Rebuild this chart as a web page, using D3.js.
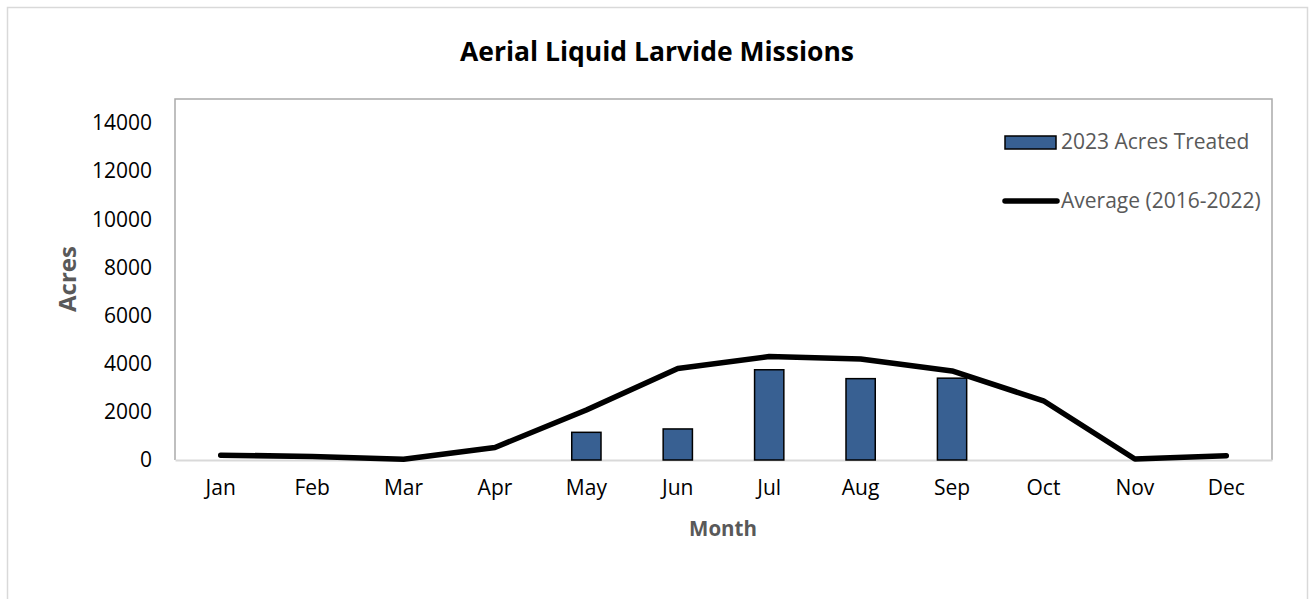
<!DOCTYPE html>
<html>
<head>
<meta charset="utf-8">
<script src="https://cdn.jsdelivr.net/npm/d3@7"></script>
<style>
  html, body { margin: 0; padding: 0; background: #fff; }
  svg { display: block; font-family: "Open Sans", sans-serif; }
</style>
</head>
<body>
<svg id="chart" width="1312" height="599"></svg>
<script>
// chart data
const months = ['Jan', 'Feb', 'Mar', 'Apr', 'May', 'Jun', 'Jul', 'Aug', 'Sep', 'Oct', 'Nov', 'Dec'];
const acres2023 = [0, 0, 0, 0, 1150, 1290, 3750, 3380, 3400, 0, 0, 0];
const average = [200, 150, 30, 520, 2080, 3800, 4300, 4200, 3700, 2460, 40, 180];
const yTicks = [0, 2000, 4000, 6000, 8000, 10000, 12000, 14000];
const seriesNames = ['2023 Acres Treated', 'Average (2016-2022)'];

const barColor = '#386092';
const margin = { top: 99, right: 40, bottom: 139, left: 175 };
const width = 1312 - margin.left - margin.right;
const height = 599 - margin.top - margin.bottom;

const svg = d3.select('#chart');

// outer chart frame
svg.append('rect')
  .attr('x', 7.5).attr('y', 7.5)
  .attr('width', 1300).attr('height', 620)
  .attr('fill', 'none')
  .attr('stroke', '#d9d9d9')
  .attr('stroke-width', 1.5);

svg.append('text')
  .attr('x', 657).attr('y', 61)
  .attr('text-anchor', 'middle')
  .attr('font-size', 26.5)
  .attr('font-weight', 'bold')
  .attr('fill', '#000')
  .text('Aerial Liquid Larvide Missions');

const chart = svg.append('g')
  .attr('transform', `translate(${margin.left},${margin.top})`);

const x = d3.scaleBand().domain(months).range([0, width]);
const y = d3.scaleLinear().domain([0, 15000]).range([height, 0]);

// plot area border (left, top, right)
chart.append('path')
  .attr('d', `M0,${height}V0H${width}V${height}`)
  .attr('fill', 'none')
  .attr('stroke', '#ababab')
  .attr('stroke-width', 1.5);

// y axis labels
const yAxis = chart.append('g')
  .call(d3.axisLeft(y).tickValues(yTicks).tickSize(0).tickPadding(23).tickFormat(d3.format('d')));
yAxis.select('.domain').remove();
yAxis.selectAll('text')
  .attr('font-family', '"Open Sans", sans-serif')
  .attr('font-size', 21)
  .attr('fill', '#000');

// x axis
const xAxis = chart.append('g')
  .attr('transform', `translate(0,${height})`)
  .call(d3.axisBottom(x).tickSize(0).tickPadding(20));
xAxis.select('.domain')
  .attr('stroke', '#d9d9d9')
  .attr('stroke-width', 2);
xAxis.selectAll('text')
  .attr('font-family', '"Open Sans", sans-serif')
  .attr('font-size', 21)
  .attr('fill', '#000');

// axis titles
svg.append('text')
  .attr('transform', 'translate(76,279) rotate(-90)')
  .attr('text-anchor', 'middle')
  .attr('font-size', 24)
  .attr('font-weight', 'bold')
  .attr('fill', '#595959')
  .text('Acres');

svg.append('text')
  .attr('x', 723).attr('y', 536)
  .attr('text-anchor', 'middle')
  .attr('font-size', 20.5)
  .attr('font-weight', 'bold')
  .attr('fill', '#595959')
  .text('Month');

// bars
const barW = x.bandwidth() * 0.32;
chart.append('g')
  .selectAll('rect')
  .data(months.map((m, i) => ({ m, v: acres2023[i] })).filter(d => d.v > 0))
  .join('rect')
  .attr('x', d => x(d.m) + (x.bandwidth() - barW) / 2)
  .attr('y', d => y(d.v))
  .attr('width', barW)
  .attr('height', d => height - y(d.v))
  .attr('fill', barColor)
  .attr('stroke', '#000')
  .attr('stroke-width', 1.5);

// average line
const line = d3.line()
  .x((d, i) => x(months[i]) + x.bandwidth() / 2)
  .y(d => y(d));
chart.append('path')
  .datum(average)
  .attr('d', line)
  .attr('fill', 'none')
  .attr('stroke', '#000')
  .attr('stroke-width', 5.5)
  .attr('stroke-linecap', 'round')
  .attr('stroke-linejoin', 'round');

// legend
const legend = svg.append('g');
legend.append('rect')
  .attr('x', 1005).attr('y', 136)
  .attr('width', 51).attr('height', 13)
  .attr('fill', barColor)
  .attr('stroke', '#000')
  .attr('stroke-width', 1.5);
legend.append('line')
  .attr('x1', 1005).attr('x2', 1057)
  .attr('y1', 201).attr('y2', 201)
  .attr('stroke', '#000')
  .attr('stroke-width', 5.5)
  .attr('stroke-linecap', 'round');
legend.selectAll('text')
  .data(seriesNames)
  .join('text')
  .attr('x', 1061)
  .attr('y', (d, i) => 142 + i * 59)
  .attr('dy', '0.35em')
  .attr('font-size', 21)
  .attr('fill', '#595959')
  .text(d => d);
</script>
</body>
</html>
